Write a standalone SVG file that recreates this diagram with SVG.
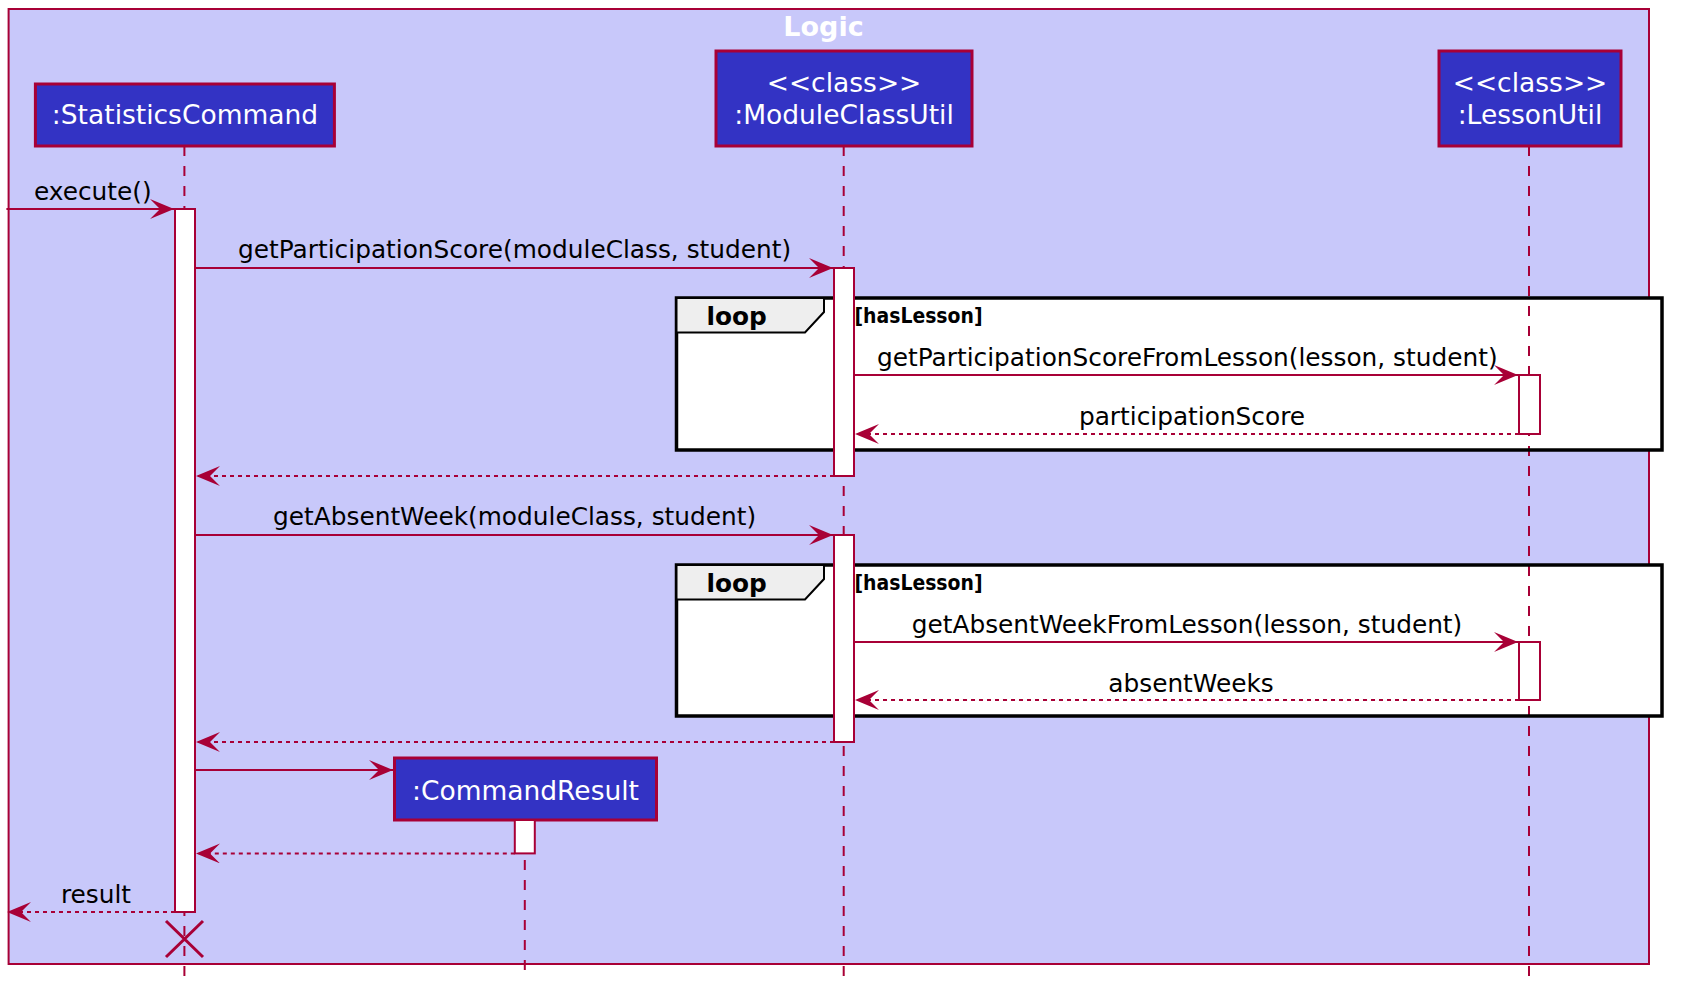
<svg xmlns="http://www.w3.org/2000/svg" width="1681" height="998" viewBox="0 0 1681 998">
<style>
.box{fill:#C8C8FA;stroke:#A80036;stroke-width:2}
.part{fill:#3333C4;stroke:#A80036;stroke-width:3}
.pt{font-family:"DejaVu Sans",sans-serif;font-size:26.5px;fill:#FFFFFF;text-anchor:middle}
.life{stroke:#A80036;stroke-width:2;stroke-dasharray:10,10;fill:none}
.act{fill:#FFFFFF;stroke:#A80036;stroke-width:2}
.msg{stroke:#A80036;stroke-width:2;fill:none}
.ret{stroke:#A80036;stroke-width:2;fill:none;stroke-dasharray:4,4}
.mt{font-family:"DejaVu Sans",sans-serif;font-size:24.8px;fill:#000000}
.mc{text-anchor:middle}
.loopfill{fill:#FFFFFF;stroke:none}
.loop{fill:none;stroke:#000000;stroke-width:3.5}
.tab{fill:#EEEEEE;stroke:#000000;stroke-width:2}
.lt{font-family:"DejaVu Sans",sans-serif;font-weight:bold;font-size:24.8px;fill:#000000}
.gt{font-family:"DejaVu Sans",sans-serif;font-weight:bold;font-size:21px;fill:#000000}
</style>
<defs>
<marker id="ah" viewBox="0 0 24 20" refX="24" refY="10" markerWidth="24" markerHeight="20" markerUnits="userSpaceOnUse" orient="auto">
<path d="M0,0 L24,10 L0,20 L10,10 Z" fill="#A80036"/>
</marker>
</defs>
<rect width="1681" height="998" fill="#FFFFFF"/>
<g id="logic-box">
<rect class="box" x="8.6" y="9" width="1640.4" height="955"/>
<text x="823.5" y="36" font-family="DejaVu Sans, sans-serif" font-weight="bold" font-size="27" fill="#FFFFFF" text-anchor="middle">Logic</text>
</g>
<g id="loop-backgrounds">
<rect class="loopfill" x="676.5" y="298" width="985.5" height="152"/>
<rect class="loopfill" x="676.5" y="565" width="985.5" height="151"/>
</g>
<g id="lifelines">
<line class="life" x1="184.4" y1="146" x2="184.4" y2="976"/>
<line class="life" x1="843.7" y1="146" x2="843.7" y2="976"/>
<line class="life" x1="1529" y1="146" x2="1529" y2="976"/>
<line class="life" x1="524.8" y1="820" x2="524.8" y2="976"/>
</g>
<g id="loop1">
<rect class="loop" x="676.5" y="298" width="985.5" height="152"/>
<path class="tab" d="M676.5,298 L824,298 L824,312 L805,332.5 L676.5,332.5 Z"/>
<text class="lt" x="706.5" y="325">loop</text>
<text class="gt" x="854.5" y="323" textLength="128" lengthAdjust="spacingAndGlyphs">[hasLesson]</text>
</g>
<g id="loop2">
<rect class="loop" x="676.5" y="565" width="985.5" height="151"/>
<path class="tab" d="M676.5,565 L824,565 L824,579 L805,599.5 L676.5,599.5 Z"/>
<text class="lt" x="706.5" y="592">loop</text>
<text class="gt" x="854.5" y="590" textLength="128" lengthAdjust="spacingAndGlyphs">[hasLesson]</text>
</g>
<g id="StatisticsCommand">
<rect class="part" x="35.4" y="84" width="299" height="62"/>
<text class="pt" x="185" y="124">:StatisticsCommand</text>
<rect class="act" x="175" y="209" width="20" height="703"/>
</g>
<g id="ModuleClassUtil">
<rect class="part" x="716" y="51" width="256" height="95"/>
<text class="pt" x="844" y="92">&lt;&lt;class&gt;&gt;</text>
<text class="pt" x="844" y="124">:ModuleClassUtil</text>
<rect class="act" x="834" y="268" width="20" height="208"/>
<rect class="act" x="834" y="535" width="20" height="207"/>
</g>
<g id="LessonUtil">
<rect class="part" x="1439" y="51" width="182" height="95"/>
<text class="pt" x="1530" y="92">&lt;&lt;class&gt;&gt;</text>
<text class="pt" x="1530" y="124">:LessonUtil</text>
<rect class="act" x="1519" y="375" width="21" height="59"/>
<rect class="act" x="1519" y="642" width="21" height="58"/>
</g>
<g id="CommandResult">
<rect class="part" x="394.5" y="758" width="262" height="62"/>
<text class="pt" x="525.5" y="800">:CommandResult</text>
<rect class="act" x="514.8" y="820" width="20" height="33.4"/>
</g>
<g id="connectors">
<line class="msg" x1="6.4" y1="209" x2="174" y2="209" marker-end="url(#ah)"/>
<text class="mt" x="34" y="200">execute()</text>
<line class="msg" x1="195" y1="268" x2="833" y2="268" marker-end="url(#ah)"/>
<text class="mt mc" x="514.6" y="258">getParticipationScore(moduleClass, student)</text>
<line class="msg" x1="854" y1="375" x2="1518" y2="375" marker-end="url(#ah)"/>
<text class="mt mc" x="1187.3" y="365.6">getParticipationScoreFromLesson(lesson, student)</text>
<line class="ret" x1="1519" y1="434" x2="855" y2="434" marker-end="url(#ah)"/>
<text class="mt mc" x="1192" y="424.5">participationScore</text>
<line class="ret" x1="834" y1="476" x2="196" y2="476" marker-end="url(#ah)"/>
<line class="msg" x1="195" y1="535" x2="833" y2="535" marker-end="url(#ah)"/>
<text class="mt mc" x="514.6" y="525">getAbsentWeek(moduleClass, student)</text>
<line class="msg" x1="854" y1="642" x2="1518" y2="642" marker-end="url(#ah)"/>
<text class="mt mc" x="1187" y="632.5">getAbsentWeekFromLesson(lesson, student)</text>
<line class="ret" x1="1519" y1="700" x2="855" y2="700" marker-end="url(#ah)"/>
<text class="mt mc" x="1191" y="691.5">absentWeeks</text>
<line class="ret" x1="834" y1="742" x2="196" y2="742" marker-end="url(#ah)"/>
<line class="msg" x1="195" y1="770" x2="393" y2="770" marker-end="url(#ah)"/>
<line class="ret" x1="514.8" y1="853.4" x2="196" y2="853.4" marker-end="url(#ah)"/>
<line class="ret" x1="175" y1="912" x2="7" y2="912" marker-end="url(#ah)"/>
<text class="mt mc" x="96" y="902.7">result</text>
<path d="M166,921 L203,957 M203,921 L166,957" stroke="#A80036" stroke-width="3" fill="none"/>
</g>
</svg>
